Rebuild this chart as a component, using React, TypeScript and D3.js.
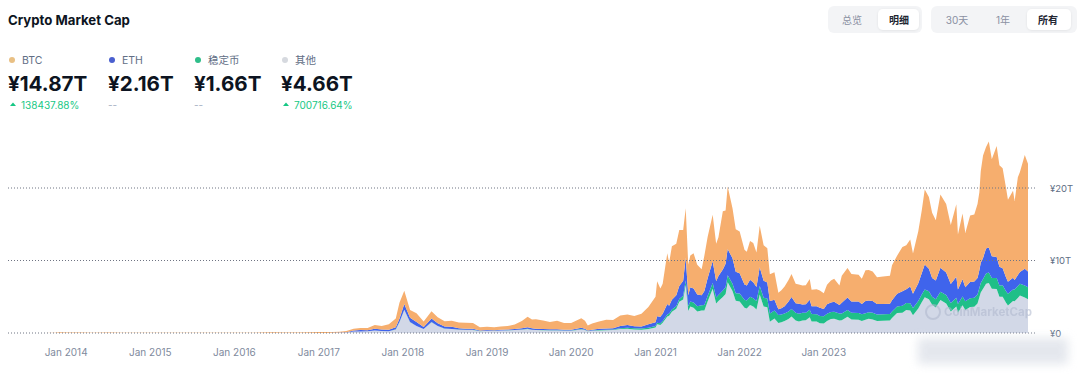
import React from 'react';
import * as d3 from 'd3';

const dates = [
  '2013-04-28','2013-07-01','2013-10-01','2013-11-15','2013-12-04','2014-01-01','2014-03-01','2014-05-01','2014-07-01','2014-09-01',
  '2014-11-01','2015-01-01','2015-03-01','2015-05-01','2015-07-01','2015-09-01','2015-11-01','2016-01-01','2016-03-01','2016-05-01',
  '2016-06-17','2016-08-01','2016-10-01','2016-12-01','2017-01-01','2017-02-01','2017-03-01','2017-04-01','2017-05-01','2017-06-01',
  '2017-07-01','2017-08-01','2017-09-01','2017-10-01','2017-11-01','2017-12-01','2017-12-17','2018-01-07','2018-02-01','2018-03-01',
  '2018-04-01','2018-05-05','2018-06-01','2018-07-01','2018-08-01','2018-09-01','2018-10-01','2018-11-01','2018-12-01','2019-01-01',
  '2019-02-01','2019-03-01','2019-04-01','2019-05-01','2019-06-01','2019-06-26','2019-07-15','2019-08-01','2019-09-01','2019-10-01',
  '2019-11-01','2019-12-01','2020-01-01','2020-02-14','2020-03-01','2020-03-13','2020-04-01','2020-05-01','2020-06-01','2020-07-01',
  '2020-08-01','2020-09-01','2020-10-01','2020-11-01','2020-12-01','2021-01-01','2021-01-08','2021-01-22','2021-02-01','2021-02-21',
  '2021-03-01','2021-03-13','2021-04-01','2021-04-14','2021-05-01','2021-05-12','2021-05-23','2021-06-01','2021-06-15','2021-07-01',
  '2021-07-20','2021-08-01','2021-08-15','2021-09-06','2021-09-21','2021-10-01','2021-10-20','2021-11-01','2021-11-10','2021-12-01',
  '2021-12-15','2022-01-01','2022-01-22','2022-02-01','2022-02-15','2022-03-01','2022-03-15','2022-03-29','2022-04-15','2022-05-01',
  '2022-05-12','2022-06-01','2022-06-18','2022-07-01','2022-07-15','2022-08-01','2022-08-14','2022-09-01','2022-09-15','2022-10-01',
  '2022-10-15','2022-11-01','2022-11-09','2022-12-01','2022-12-15','2023-01-01','2023-01-15','2023-02-01','2023-02-15','2023-03-10',
  '2023-03-20','2023-04-14','2023-05-01','2023-06-01','2023-06-15','2023-07-01','2023-07-15','2023-08-01','2023-08-20','2023-09-15',
  '2023-10-15','2023-10-24','2023-11-15','2023-12-08','2023-12-25','2024-01-11','2024-01-23','2024-02-15','2024-03-01','2024-03-14',
  '2024-04-01','2024-04-15','2024-05-01','2024-05-21','2024-06-15','2024-07-05','2024-07-29','2024-08-05','2024-08-25','2024-09-06',
  '2024-09-27','2024-10-15','2024-10-29','2024-11-06','2024-11-12','2024-11-22','2024-12-05','2024-12-17','2024-12-30','2025-01-20',
  '2025-02-01','2025-02-15','2025-03-01','2025-03-10','2025-04-01','2025-04-08','2025-04-22','2025-05-01','2025-05-22','2025-06-05',
];

// values in trillions (¥T)
const btc = [
  0.009,0.006,0.009,0.03,0.08,0.058,0.047,0.03,0.05,0.04,
  0.028,0.024,0.022,0.02,0.023,0.02,0.026,0.045,0.04,0.045,
  0.08,0.06,0.06,0.08,0.11,0.105,0.13,0.12,0.16,0.26,
  0.28,0.3,0.52,0.47,0.75,1.2,2.2,1.85,1.05,1.2,
  0.77,1.0,0.82,0.73,0.85,0.8,0.8,0.8,0.45,0.45,
  0.42,0.45,0.49,0.64,1.0,1.45,1.2,1.3,1.2,1.0,
  1.17,0.93,0.93,1.3,1.1,0.67,0.85,1.0,1.2,1.15,
  1.45,1.45,1.4,1.75,2.4,3.5,4.85,3.9,4.15,7.0,
  5.95,7.35,7.1,7.7,7.0,6.8,4.2,4.4,4.85,4.1,
  3.6,4.9,5.7,6.4,5.15,5.35,8.05,7.35,8.6,6.9,
  5.85,5.75,4.8,4.65,5.35,5.4,4.75,5.7,4.9,4.75,
  3.7,3.8,2.28,2.48,2.7,2.97,3.2,2.7,2.65,2.63,
  2.65,2.85,2.25,2.35,2.37,2.2,2.7,3.05,3.2,2.7,
  3.72,4.05,3.8,3.7,3.5,4.25,4.2,4.1,3.7,3.8,
  3.88,4.82,5.25,6.1,6.05,6.5,5.55,7.2,8.65,10.35,
  9.9,9.0,8.3,10.1,9.45,8.15,10.0,7.6,9.1,7.5,
  9.15,9.25,10.2,10.75,12.6,14.15,14.0,14.6,13.4,15.3,
  14.0,13.8,12.4,11.3,12.0,10.9,13.5,13.8,15.7,14.87,
];

const eth = [
  0,0,0,0,0,0,0,0,0,0,
  0,0,0,0,0,0.001,0.001,0.001,0.003,0.005,
  0.008,0.007,0.008,0.006,0.006,0.008,0.013,0.03,0.05,0.15,
  0.18,0.13,0.25,0.2,0.2,0.3,0.45,0.78,0.6,0.55,
  0.25,0.48,0.38,0.29,0.28,0.19,0.16,0.14,0.08,0.1,
  0.08,0.1,0.1,0.12,0.18,0.22,0.2,0.16,0.13,0.13,
  0.14,0.11,0.1,0.2,0.16,0.07,0.1,0.15,0.17,0.17,
  0.3,0.37,0.29,0.3,0.47,0.55,0.9,0.9,1.0,1.45,
  1.07,1.35,1.5,1.8,2.07,3.17,1.5,1.95,1.95,1.6,
  1.35,1.95,2.45,3.0,2.25,2.6,2.9,3.25,3.65,3.5,
  2.95,2.8,2.1,2.05,2.35,2.2,1.95,2.6,2.35,2.2,
  1.7,1.47,0.8,0.87,1.0,1.35,1.63,1.32,1.4,1.14,
  1.15,1.39,1.09,1.1,1.12,1.0,1.3,1.29,1.37,1.17,
  1.48,1.72,1.55,1.6,1.43,1.66,1.64,1.62,1.45,1.42,
  1.39,1.57,1.73,2.0,1.92,2.3,1.95,2.45,2.95,3.45,
  3.1,2.6,2.6,3.3,3.12,2.6,2.9,2.0,2.37,1.92,
  2.25,2.24,2.28,2.44,2.8,2.9,3.45,3.45,3.0,2.9,
  2.6,2.37,1.93,1.68,1.6,1.31,1.53,1.6,2.3,2.16,
];

const stable = [
  0,0,0,0,0,0,0,0,0,0,
  0,0,0,0,0,0,0,0,0,0,
  0,0,0,0,0,0,0,0.001,0.001,0.001,
  0.002,0.002,0.003,0.003,0.004,0.006,0.008,0.01,0.014,0.015,
  0.016,0.018,0.02,0.018,0.018,0.018,0.02,0.02,0.02,0.02,
  0.02,0.02,0.02,0.02,0.03,0.03,0.03,0.03,0.03,0.03,
  0.03,0.03,0.04,0.04,0.04,0.04,0.06,0.07,0.08,0.09,
  0.1,0.12,0.14,0.16,0.18,0.2,0.21,0.23,0.25,0.28,
  0.3,0.33,0.37,0.4,0.5,0.6,0.65,0.7,0.72,0.73,
  0.74,0.75,0.77,0.8,0.83,0.85,0.88,0.92,0.95,1.0,
  1.05,1.1,1.12,1.13,1.15,1.15,1.16,1.18,1.2,1.2,
  1.15,1.12,1.08,1.05,1.05,1.05,1.05,1.05,1.05,1.05,
  1.05,1.05,1.03,1.0,1.0,0.99,0.98,0.97,0.96,0.95,
  0.94,0.94,0.94,0.93,0.92,0.92,0.91,0.91,0.9,0.9,
  0.9,0.9,0.92,0.95,0.97,0.99,1.0,1.02,1.05,1.08,
  1.1,1.12,1.14,1.15,1.16,1.17,1.18,1.19,1.2,1.21,
  1.23,1.25,1.26,1.28,1.3,1.35,1.42,1.45,1.48,1.52,
  1.55,1.57,1.6,1.6,1.61,1.62,1.63,1.64,1.65,1.66,
];

const other = [
  0.001,0.001,0.001,0.003,0.008,0.008,0.006,0.004,0.005,0.005,
  0.004,0.003,0.003,0.003,0.003,0.003,0.003,0.004,0.004,0.004,
  0.006,0.005,0.006,0.007,0.008,0.008,0.012,0.025,0.06,0.19,
  0.22,0.25,0.33,0.28,0.25,0.5,1.5,3.2,1.5,0.95,
  0.55,1.5,0.95,0.6,0.55,0.45,0.42,0.42,0.25,0.3,
  0.28,0.33,0.35,0.4,0.45,0.55,0.42,0.4,0.38,0.35,
  0.36,0.3,0.3,0.5,0.4,0.25,0.3,0.35,0.38,0.4,
  0.55,0.6,0.5,0.45,0.55,0.75,1.19,1.12,1.4,2.27,
  2.38,2.92,3.33,4.3,4.63,6.63,3.05,3.65,3.48,2.97,
  3.1,3.1,4.33,6.1,4.07,4.4,4.97,5.38,7.0,5.8,
  4.45,4.35,3.48,3.37,3.85,3.65,3.24,5.3,3.65,3.55,
  1.55,2.0,1.39,1.5,1.65,1.93,2.27,1.73,1.6,1.73,
  1.75,2.16,1.58,1.6,1.36,1.31,1.67,1.94,1.97,1.73,
  1.76,2.24,1.86,1.82,1.65,1.82,1.95,1.87,1.65,1.68,
  1.73,2.06,2.75,2.8,3.16,3.11,2.45,3.38,4.25,4.92,
  4.65,3.88,3.51,4.55,4.07,2.98,3.67,2.81,3.83,3.17,
  3.57,3.61,4.06,4.93,5.6,6.1,6.8,6.9,6.1,6.08,
  5.0,5.0,4.2,3.8,4.4,4.37,4.84,5.16,4.9,4.66,
];

const seriesKeys = ['other', 'stable', 'eth', 'btc'];
const seriesColors: Record<string, string> = {
  btc: '#F6AE6E',
  eth: '#3F64EC',
  stable: '#1FBF88',
  other: '#D2D8E7',
};

const legendNames = ['BTC', 'ETH', '稳定币', '其他'];
const legendDotColors = ['#E9C084', '#4A5FCF', '#2FBE8A', '#D6D9DF'];
const legendValues = ['¥14.87T', '¥2.16T', '¥1.66T', '¥4.66T'];
const legendChanges = ['138437.88%', '--', '--', '700716.64%'];
const legendX = [8, 108, 194, 281];

const yTicks = [0, 10, 20];
const yTickLabels = ['¥0', '¥10T', '¥20T'];
const xTickYears = [2014, 2015, 2016, 2017, 2018, 2019, 2020, 2021, 2022, 2023];

const viewButtons = ['总览', '明细'];
const rangeButtons = ['30天', '1年', '所有'];

const W = 1080;
const H = 378;
const FONT = "Inter, 'Noto Sans CJK SC', 'Noto Sans', sans-serif";

export default function App() {
  const parse = d3.utcParse('%Y-%m-%d');
  const rows = dates.map((d, i) => ({
    date: parse(d) as Date,
    btc: btc[i],
    eth: eth[i],
    stable: stable[i],
    other: other[i],
  }));

  const x = d3
    .scaleUtc()
    .domain(d3.extent(rows, (r) => r.date) as [Date, Date])
    .range([9, 1028]);
  const y = d3.scaleLinear().domain([0, 20]).range([333, 188]);

  const stack = d3.stack<any>().keys(seriesKeys);
  const stacked = stack(rows);
  const area = d3
    .area<any>()
    .x((d) => x(d.data.date))
    .y0((d) => y(d[0]))
    .y1((d) => y(d[1]))
    .curve(d3.curveLinear);

  return (
    <svg
      width={W}
      height={H}
      viewBox={`0 0 ${W} ${H}`}
      style={{ position: 'absolute', left: 0, top: 0, background: '#fff', fontFamily: FONT }}
    >
      <defs>
        <filter id="blur6" x="-20%" y="-50%" width="140%" height="200%">
          <feGaussianBlur stdDeviation="5" />
        </filter>
        <filter id="shadow" x="-20%" y="-40%" width="140%" height="180%">
          <feDropShadow dx="0" dy="0.5" stdDeviation="0.8" floodColor="#000" floodOpacity="0.08" />
        </filter>
      </defs>
      <rect x={0} y={0} width={W} height={H} fill="#fff" />

      {/* Title */}
      <text x={8} y={25} fontSize={13.2} fontWeight={700} fill="#0D1421">
        Crypto Market Cap
      </text>

      {/* toggle groups */}
      <rect x={828} y={6} width={94} height={27} rx={6} fill="#F3F4F6" />
      <rect x={878} y={9} width={41} height={21} rx={5} fill="#fff" filter="url(#shadow)" />
      {viewButtons.map((b, i) => (
        <text
          key={b}
          x={[852, 899][i]}
          y={24}
          textAnchor="middle"
          fontSize={10}
          fontWeight={i === 1 ? 700 : 400}
          fill={i === 1 ? '#222531' : '#8A90A2'}
        >
          {b}
        </text>
      ))}
      <rect x={931} y={6} width={146} height={27} rx={6} fill="#F3F4F6" />
      <rect x={1027} y={9} width={44} height={21} rx={5} fill="#fff" filter="url(#shadow)" />
      {rangeButtons.map((b, i) => (
        <text
          key={b}
          x={[957, 1003, 1048][i]}
          y={24}
          textAnchor="middle"
          fontSize={10}
          fontWeight={i === 2 ? 700 : 400}
          fill={i === 2 ? '#222531' : '#8A90A2'}
        >
          {b}
        </text>
      ))}

      {/* legend */}
      {legendNames.map((n, i) => (
        <g key={n}>
          <circle cx={legendX[i] + 4} cy={60} r={3} fill={legendDotColors[i]} />
          <text x={legendX[i] + 14} y={64} fontSize={10.5} fill="#616E85">
            {n}
          </text>
          <text x={legendX[i]} y={91} fontSize={20.6} fontWeight={700} fill="#0D1421">
            {legendValues[i]}
          </text>
          {legendChanges[i] === '--' ? (
            <text x={legendX[i]} y={109} fontSize={10} fill="#A6B0C3">
              --
            </text>
          ) : (
            <g>
              <path
                d={`M${legendX[i] + 2},${106} L${legendX[i] + 8},${106} L${legendX[i] + 5},${102.5} Z`}
                fill="#16C784"
              />
              <text x={legendX[i] + 13} y={109} fontSize={10} fill="#16C784">
                {legendChanges[i]}
              </text>
            </g>
          )}
        </g>
      ))}

      {/* areas */}
      {stacked.map((s) => (
        <path key={s.key} d={area(s) as string} fill={seriesColors[s.key]} stroke="none" />
      ))}

      {/* grid lines */}
      {yTicks.map((t) => (
        <line
          key={t}
          x1={8}
          x2={1036}
          y1={y(t)}
          y2={y(t)}
          stroke="#6F7483"
          strokeWidth={1}
          strokeDasharray="1 2"
        />
      ))}

      {/* watermark */}
      <g opacity={0.55}>
        <circle cx={933} cy={312} r={7} fill="none" stroke="#AEB7CD" strokeWidth={2} />
        <text x={944} y={316} fontSize={11.5} fontWeight={700} fill="#AEB7CD">
          CoinMarketCap
        </text>
      </g>

      {/* y labels */}
      {yTicks.map((t, i) => (
        <text key={t} x={1050} y={y(t) + 3.5} fontSize={9.5} fill="#616E85">
          {yTickLabels[i]}
        </text>
      ))}

      {/* x labels */}
      {xTickYears.map((yr) => (
        <text
          key={yr}
          x={x(new Date(Date.UTC(yr, 0, 1)))}
          y={356}
          textAnchor="middle"
          fontSize={10}
          fill="#808A9D"
        >
          {`Jan ${yr}`}
        </text>
      ))}

      {/* blurred overlay bottom right */}
      <rect x={918} y={338} width={150} height={26} fill="#DCE0E8" opacity={0.75} filter="url(#blur6)" />
    </svg>
  );
}
